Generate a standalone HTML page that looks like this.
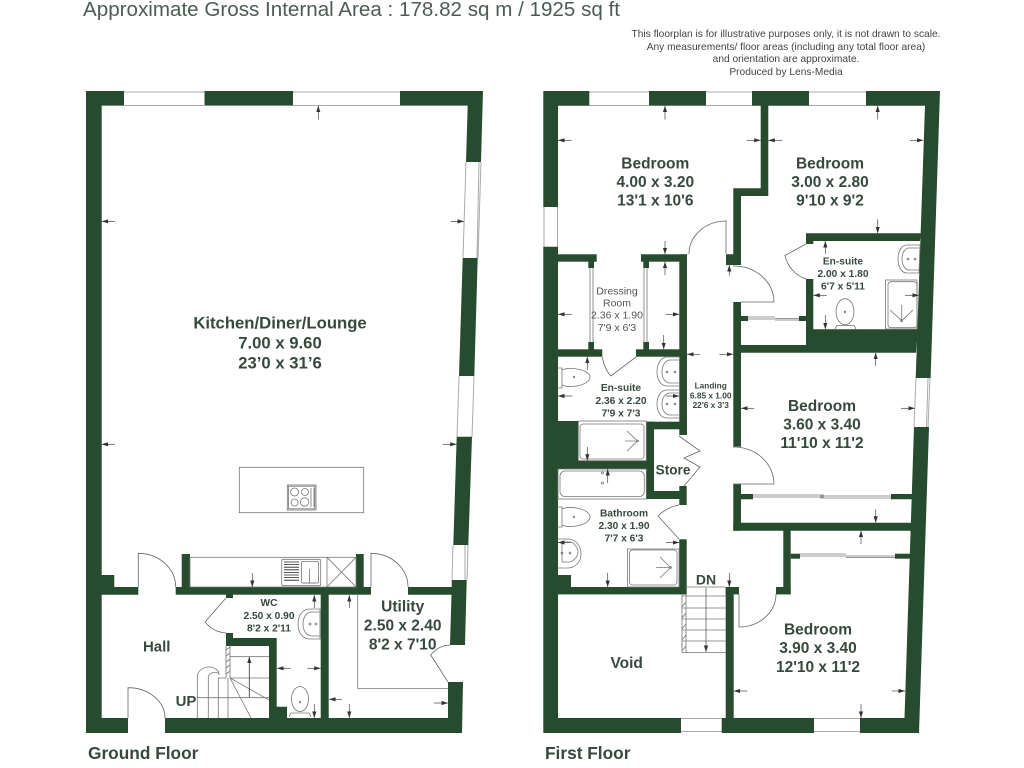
<!DOCTYPE html>
<html lang="en">
<head>
<meta charset="utf-8">
<title>Floorplan</title>
<style>
html,body{margin:0;padding:0;background:#fff;width:1024px;height:768px;overflow:hidden}
svg{display:block}
text{font-family:"Liberation Sans",sans-serif}
.t{font-weight:bold;fill:#37493c;text-anchor:middle}
.l{font-size:15.5px}.m{font-size:10.2px}
.w{fill:#264b2e;stroke:none}
.f{fill:none;stroke:#777;stroke-width:.8}
.d{fill:none;stroke:#666;stroke-width:.8}
.g{fill:none;stroke:#aaa;stroke-width:1}
.a{fill:none;stroke:#444;stroke-width:.7;marker-end:url(#ah)}
</style>
</head>
<body>
<svg width="1024" height="768" viewBox="0 0 1024 768" xmlns="http://www.w3.org/2000/svg">
<defs>
<marker id="ah" markerUnits="userSpaceOnUse" markerWidth="7" markerHeight="6" refX="6.5" refY="2.5" orient="auto">
<path d="M0 0.4L6.5 2.5L0 4.6Z" fill="#333"/>
</marker>
</defs>
<rect width="1024" height="768" fill="#fff"/>

<text x="83" y="16" font-size="20" fill="#4d5c52" textLength="537" lengthAdjust="spacingAndGlyphs">Approximate Gross Internal Area : 178.82 sq m / 1925 sq ft</text>
<g font-size="10.2" fill="#444" text-anchor="middle">
<text x="786" y="37">This floorplan is for illustrative purposes only, it is not drawn to scale.</text>
<text x="786" y="50">Any measurements/ floor areas (including any total floor area)</text>
<text x="786" y="62">and orientation are approximate.</text>
<text x="786" y="75">Produced by Lens-Media</text>
</g>

<!-- GROUND FLOOR WINDOW LINES -->
<g class="g">
<path d="M124 92H204M124 105.5H204M293 92H400M293 105.5H400"/>
<path d="M466 162L463 258M481 162L478 258M479 162L477 258"/>
<path d="M459 376L457 437M474 376L472 437"/>
<path d="M453 545L452 580M468 545L467 580M465 545L465 580"/>
</g>

<!-- GROUND FLOOR WALLS -->
<g class="w">
<polygon points="86,91 124,91 124,105.6 101.7,105.6 101.7,575 114.3,575 114.3,587 138.3,587 138.3,594.7 101.7,594.7 101.7,718 128,718 128,733 86,733"/>
<rect x="204.5" y="91" width="88.5" height="14.6"/>
<polygon points="400,91 483,91 481,162 466,162 467.7,105.6 400,105.6"/>
<polygon points="477.7,258 474.3,376 459,376 462.7,258"/>
<polygon points="472,436.7 468.3,545 453.3,545 456.7,436.7"/>
<polygon points="466.7,580 465,645 450,645 451.5,594.7 408,594.7 408,587 451.7,587 451.7,580"/>
<polygon points="448,682 463,682 462,733 165,733 165,718 448,718"/>
<rect x="175.7" y="587" width="195.3" height="7.7"/>
<rect x="181.7" y="554" width="8.3" height="33"/>
<rect x="356" y="554" width="7.7" height="33"/>
<rect x="320.7" y="594" width="8" height="125"/>
<rect x="226" y="594" width="7" height="4"/>
<polygon points="226,633 233,633 233,638 276.7,638 276.7,706.7 287,706.7 287,718 269,718 269,646 226,646"/>
</g>

<!-- GROUND FLOOR FIXTURES -->
<g class="f">
<rect x="190" y="557.3" width="166" height="29.7"/>
<rect x="281.7" y="559.3" width="39" height="26.4" rx="1.5"/>
<rect x="301.5" y="561.5" width="17" height="21.5" rx="1"/>
<path d="M327 557.3L356 587M356 557.3L327 587M327 557.3V587"/>
<path style="stroke:#222" d="M284 562H299M284 564.6H299M284 567.2H299M284 569.8H299M284 572.4H299M284 575H299M284 577.6H299M284 580.2H299"/>
<path d="M309.5 569V583M303 583H316"/>
<rect x="239.3" y="467.3" width="124.4" height="45.4"/>
<rect x="287.3" y="485" width="28.7" height="25"/>
<rect x="288.5" y="486.2" width="26.3" height="22.6"/>
<circle cx="294.6" cy="492" r="4"/><circle cx="305" cy="492" r="3.5"/>
<circle cx="294.6" cy="502.5" r="3.5"/><circle cx="304.6" cy="502" r="4.2"/>
<path d="M311 488V507M314 488V507"/>
<!-- WC basin and toilet -->
<path d="M320 609H310C302 609 298 616 298 624C298 632 302 639 310 639H320Z"/>
<path d="M320 612H312C306 612 303 618 303 624C303 630 306 636 312 636H320"/>
<circle cx="310" cy="624" r="1"/><circle cx="316" cy="624" r="1"/>
<ellipse cx="300" cy="699" rx="8.5" ry="12.5"/>
<circle cx="300" cy="702" r=".7"/>
<path d="M289 717L291 713H309L311 717"/>
<!-- Utility cupboard -->
<path d="M357.7 595V688.5H448"/>
<!-- Stairs -->
<path d="M197.3 718V676.7M208.3 718V676.7M218.3 718V678M228 718V678M197.3 697.7H269"/>
<path d="M230 656.7H269M230 678H269M249.3 697.7V656.7M226 646V678H218M230 646V678"/>
<path d="M230 678L269 700M230 678L251 718"/>
<path d="M197.3 677C197.3 671 203 667 209 667C215 667 219 671 219 674C216 671 210 672 208.3 677"/>
<path d="M226 650L230 647M226 656L230 653M226 662L230 659M226 668L230 665M226 674L230 671"/>
</g>

<!-- GROUND FLOOR DOORS -->
<g class="d">
<path d="M138.3 587V553.3A37.4 33.7 0 0 1 175.7 587"/>
<path d="M128 718V687.7A37 30.3 0 0 1 165 718"/>
<path d="M371 587V553.3A37 33.7 0 0 1 408 587"/>
<path d="M226 598L205 622A30 30 0 0 0 226 633"/>
<path d="M448 682L430.7 655A26 26 0 0 1 450 645"/>
</g>

<!-- GROUND FLOOR ARROWS -->
<g>
<line class="a" x1="318.3" y1="119.5" x2="318.3" y2="105.7"/>
<line class="a" x1="115" y1="221.4" x2="101.7" y2="221.4"/>
<line class="a" x1="450.7" y1="221.4" x2="464" y2="221.4"/>
<line class="a" x1="115" y1="444.3" x2="101.7" y2="444.3"/>
<line class="a" x1="442.7" y1="444.3" x2="456.7" y2="444.3"/>
<line class="a" x1="252.3" y1="573" x2="252.3" y2="587"/>
<line class="a" x1="314.3" y1="608" x2="314.3" y2="595"/>
<line class="a" x1="349.3" y1="608" x2="349.3" y2="595"/>
<line class="a" x1="290.7" y1="668.3" x2="277" y2="668.3"/>
<line class="a" x1="307.3" y1="668.3" x2="320.7" y2="668.3"/>
<line class="a" x1="314.3" y1="704" x2="314.3" y2="718"/>
<line class="a" x1="342" y1="699.3" x2="329" y2="699.3"/>
<line class="a" x1="349.3" y1="704" x2="349.3" y2="718"/>
<line class="a" x1="434" y1="703" x2="448" y2="703"/>
<line class="a" x1="249.3" y1="697" x2="249.3" y2="656.7"/>
</g>

<!-- FIRST FLOOR WINDOW LINES -->
<g class="g">
<path d="M589 92H649M589 105.5H649M706 92H752M706 105.5H752M809 92H866M809 105.5H866"/>
<path d="M544 207V247M557.5 207V247"/>
<path d="M916 378L914 427M930 378L928 427M928 378L926.5 427"/>
<path d="M681 718.5H722M681 731.5H722M814 718.5H860M814 731.5H860"/>
</g>

<!-- FIRST FLOOR WALLS -->
<g class="w">
<polygon points="543.3,91 589.3,91 589.3,105.7 558,105.7 558,207 543.3,207"/>
<rect x="649" y="91" width="57" height="14.7"/>
<polygon points="752,91 809,91 809,105.7 768.3,105.7 768.3,196 741,196 741,265 726,265 726,254.3 733.3,254.3 733.3,188.3 760.7,188.3 760.7,105.7 752,105.7"/>
<polygon points="866,91 940,91 930.6,378 915.7,378 925,105.7 866,105.7"/>
<polygon points="929,427 919,733 904,733 914,427"/>
<polygon points="543.3,246.7 558,246.7 558,718 681,718 681,733 543.3,733"/>
<rect x="721.7" y="718" width="92.3" height="15"/>
<rect x="860" y="718" width="50" height="15"/>
<!-- bedroom1/dressing wall -->
<rect x="558" y="254.3" width="38.7" height="7.4"/>
<rect x="641" y="254.3" width="46" height="7.4"/>
<rect x="679.3" y="254.3" width="7.7" height="180.7"/>
<rect x="588.3" y="261" width="5.7" height="7"/>
<rect x="643.3" y="261" width="5.7" height="7"/>
<rect x="588.3" y="342" width="5.7" height="8"/>
<rect x="643.3" y="342" width="5.7" height="8"/>
<rect x="558" y="349.3" width="44.3" height="7.4"/>
<rect x="636" y="349.3" width="51" height="7.4"/>
<!-- ensuite / bath block -->
<rect x="558" y="421" width="20.3" height="48"/>
<rect x="558" y="460.7" width="96" height="8.3"/>
<rect x="646.3" y="421.7" width="7.7" height="77.3"/>
<rect x="646.3" y="421.7" width="40" height="7.6"/>
<rect x="646.3" y="491" width="40" height="8"/>
<rect x="679.3" y="486" width="7.4" height="19"/>
<rect x="679.3" y="539.3" width="7.4" height="55"/>
<rect x="558" y="587" width="128" height="7.4"/>
<rect x="558" y="575" width="13" height="13"/>
<!-- en-suite 2 -->
<polygon points="806,233.3 921,233.3 920,241 813.3,241 813.3,244 806,244"/>
<rect x="806" y="279" width="7.3" height="51"/>
<polygon points="806,329.3 918,329.3 916,352.7 733.3,352.7 733.3,302 741,302 741,316 748,316 748,321 741,321 741,345 806,345"/>
<rect x="799" y="316" width="7" height="5"/>
<!-- bedroom 3 -->
<rect x="733.3" y="352" width="7.7" height="94.7"/>
<rect x="733.3" y="484" width="7.7" height="46.7"/>
<rect x="741" y="494" width="12" height="5.3"/>
<polygon points="891,494 913,494 913,499.3 891,499.3"/>
<polygon points="733.3,522.7 912,522.7 911.5,530.7 733.3,530.7"/>
<!-- bedroom 4 -->
<rect x="783.3" y="530" width="7.4" height="64.3"/>
<rect x="776" y="587" width="14.7" height="7.4"/>
<rect x="790.7" y="553.7" width="9.3" height="5"/>
<rect x="895" y="553.7" width="15" height="5"/>
<rect x="725.7" y="587" width="13.3" height="7.4"/>
<rect x="725.7" y="587" width="8" height="131.5"/>
</g>

<!-- FIRST FLOOR FIXTURES -->
<g class="f">
<!-- dressing slides -->
<path d="M590 268V342M593 268V342M644 268V342M647 268V342"/>
<!-- wardrobe sliders -->
<path d="M748 317H775M775 320H799M748 319H775M775 318.5H799"/>
<path d="M753 495H824M820 498H891M753 497H824M820 496H891"/>
<path d="M800 554H846M846 557.5H895M800 556H846M846 556H895"/>
<!-- en-suite basin, shower, toilet (top) -->
<path d="M920 245H907C901 245 898 252 898 259C898 266 901 273 907 273H919Z"/>
<path d="M919 248H909C905 248 902 253 902 259C902 265 905 270 909 270H919"/>
<circle cx="908" cy="259" r=".9"/><circle cx="915" cy="259" r=".9"/>
<rect x="885.5" y="280" width="31.5" height="49"/>
<rect x="888" y="281.7" width="29" height="46" rx="3"/>
<path d="M901.7 320.7L890 310M901.7 320.7V305M901.7 320.7L913 310"/>
<circle cx="901.7" cy="320.7" r="1"/>
<ellipse cx="845" cy="311.7" rx="9" ry="13"/>
<circle cx="845" cy="312" r=".8"/>
<path d="M835 329L837 325.5H854L856 329"/>
<!-- en-suite 2 -->
<path d="M558 368H562V388H558M562 370C570 366 590 370 590 377C590 385 570 389 562 385"/>
<circle cx="574" cy="377" r=".8"/>
<path d="M679 357H667C661 357 657 364 657 372C657 380 661 386 667 386H679"/>
<path d="M679 360H670C665 360 662 366 662 372C662 378 665 383 670 383H679"/>
<circle cx="667" cy="372" r=".9"/><circle cx="675" cy="372" r=".9"/>
<path d="M679 390H667C661 390 657 396 657 404C657 412 661 418 667 418H679"/>
<path d="M679 393H670C665 393 662 398 662 404C662 410 665 415 670 415H679"/>
<circle cx="667" cy="404" r=".9"/><circle cx="675" cy="404" r=".9"/>
<!-- shower -->
<rect x="578.3" y="421" width="68" height="39.7"/>
<rect x="580" y="424" width="64" height="35" rx="3"/>
<path d="M637.5 441L627 431M637.5 441H625M637.5 441L627 451"/>
<circle cx="637.5" cy="441" r="1"/>
<!-- bath -->
<rect x="558" y="469" width="88.3" height="30"/>
<rect x="560" y="471" width="84.3" height="25.5" rx="5"/>
<circle cx="602.5" cy="473" r="1"/><circle cx="602.5" cy="483" r="1"/>
<!-- bathroom -->
<path d="M558 507H562V527H558M562 509C570 505 590 509 590 517C590 525 570 529 562 525"/>
<circle cx="574" cy="517" r=".8"/>
<path d="M558 539H568C575 539 581 545 581 554C581 562 575 568 568 568H558"/>
<path d="M562 542V562H570C575 560 578 556 578 552C578 547 573 542 570 542Z"/>
<circle cx="562" cy="553" r=".9"/><circle cx="570" cy="553" r=".9"/>
<rect x="627.5" y="549" width="51.5" height="38"/>
<rect x="629.5" y="550" width="47.5" height="35" rx="3"/>
<path d="M670.5 567.5L660 557M670.5 567.5H656M670.5 567.5L660 578"/>
<circle cx="670.5" cy="567.5" r="1"/>
<!-- stairs -->
<path d="M686 587H725.7M682 596H725.7M682 608H725.7M682 619H725.7M682 630H725.7M682 641H725.7M682 652.5H725.7M682 594V652.5M686 594V652.5"/>
<path d="M682 607L686 602M682 618L686 613M682 629L686 624M682 640L686 635M682 651L686 646"/>
</g>

<!-- FIRST FLOOR DOORS -->
<g class="d">
<path d="M726 254V221A37 33 0 0 0 689 254"/>
<path d="M733 266A40 36 0 0 1 774 302H741"/>
<path d="M806 244L785 255.5A32 32 0 0 0 806 279" />
<path d="M602.3 357C604 366 607 372 611 376L636 357"/>
<path d="M733 447A40 37 0 0 1 774 484H733"/>
<path d="M679 436L700 451L684 458L700 467L684 486"/>
<path d="M679 505C668 507 662 512 658 516L679 539"/>
<path d="M739 594V627A37 33 0 0 0 776 594"/>
</g>

<!-- FIRST FLOOR ARROWS -->
<g>
<line class="a" x1="665" y1="119.5" x2="665" y2="105.7"/>
<line class="a" x1="571.7" y1="140.3" x2="558" y2="140.3"/>
<line class="a" x1="746.7" y1="140.3" x2="760.7" y2="140.3"/>
<line class="a" x1="782.3" y1="140.3" x2="768.3" y2="140.3"/>
<line class="a" x1="910" y1="140.3" x2="923.3" y2="140.3"/>
<line class="a" x1="877.7" y1="119.5" x2="877.7" y2="105.7"/>
<line class="a" x1="877.7" y1="219.3" x2="877.7" y2="233.3"/>
<line class="a" x1="665" y1="241" x2="665" y2="254.3"/>
<line class="a" x1="665" y1="275" x2="665" y2="261.7"/>
<line class="a" x1="729.3" y1="275.7" x2="729.3" y2="265"/>
<line class="a" x1="825.3" y1="254" x2="825.3" y2="241"/>
<line class="a" x1="826.7" y1="295.3" x2="813.3" y2="295.3"/>
<line class="a" x1="905" y1="295.3" x2="919" y2="295.3"/>
<line class="a" x1="825.3" y1="315" x2="825.3" y2="329.3"/>
<line class="a" x1="571.7" y1="314.3" x2="558" y2="314.3"/>
<line class="a" x1="665.7" y1="314.3" x2="679.3" y2="314.3"/>
<line class="a" x1="663.7" y1="335" x2="663.7" y2="349.3"/>
<line class="a" x1="587.3" y1="370" x2="587.3" y2="356.7"/>
<line class="a" x1="572.3" y1="396" x2="558" y2="396"/>
<line class="a" x1="666" y1="396" x2="679.3" y2="396"/>
<line class="a" x1="587.3" y1="447" x2="587.3" y2="460.7"/>
<line class="a" x1="607.7" y1="483" x2="607.7" y2="469"/>
<line class="a" x1="700" y1="354.3" x2="687" y2="354.3"/>
<line class="a" x1="719.3" y1="354.3" x2="733.3" y2="354.3"/>
<line class="a" x1="875.7" y1="366" x2="875.7" y2="352.7"/>
<line class="a" x1="754.3" y1="408.3" x2="741" y2="408.3"/>
<line class="a" x1="901" y1="408.3" x2="915" y2="408.3"/>
<line class="a" x1="875.7" y1="509.3" x2="875.7" y2="522.7"/>
<line class="a" x1="861" y1="544" x2="861" y2="530.7"/>
<line class="a" x1="665.7" y1="542.5" x2="679.3" y2="542.5"/>
<line class="a" x1="571" y1="542.5" x2="558" y2="542.5"/>
<line class="a" x1="607.7" y1="573" x2="607.7" y2="587"/>
<line class="a" x1="729.3" y1="573" x2="729.3" y2="587"/>
<line class="a" x1="706" y1="588" x2="706" y2="652"/>
<line class="a" x1="747.3" y1="691" x2="733.7" y2="691"/>
<line class="a" x1="891.7" y1="691" x2="905" y2="691"/>
<line class="a" x1="861" y1="704" x2="861" y2="718"/>
</g>

<!-- LABELS GROUND -->
<g class="t" font-size="16.7">
<text x="280" y="328.5">Kitchen/Diner/Lounge</text>
<text x="280" y="348.5">7.00 x 9.60</text>
<text x="280" y="368.5">23’0 x 31’6</text>
</g>
<g class="t l">
<text x="402.7" y="611.5">Utility</text>
<text x="402.7" y="630.5">2.50 x 2.40</text>
<text x="402.7" y="649.5">8'2 x 7'10</text>
</g>
<g class="t m">
<text x="269" y="606">WC</text>
<text x="269" y="619">2.50 x 0.90</text>
<text x="269" y="631.5">8'2 x 2'11</text>
</g>
<text class="t" x="156.7" y="651.5" font-size="15">Hall</text>
<text class="t" x="186" y="706" font-size="15">UP</text>
<text class="t" x="88" y="759" font-size="17.3" style="text-anchor:start">Ground Floor</text>

<!-- LABELS FIRST -->
<g class="t l">
<text x="655.3" y="168.5">Bedroom</text><text x="655.3" y="187">4.00 x 3.20</text><text x="655.3" y="205.5">13'1 x 10'6</text>
<text x="830" y="168.5">Bedroom</text><text x="830" y="187">3.00 x 2.80</text><text x="830" y="205.5">9'10 x 9'2</text>
<text x="822" y="411">Bedroom</text><text x="822" y="429.5">3.60 x 3.40</text><text x="822" y="448">11'10 x 11'2</text>
<text x="818" y="634.5">Bedroom</text><text x="818" y="653">3.90 x 3.40</text><text x="818" y="672">12'10 x 11'2</text>
</g>
<g class="t m">
<text x="843" y="264.5">En-suite</text><text x="843" y="277">2.00 x 1.80</text><text x="843" y="289.5">6'7 x 5'11</text>
<text x="621" y="391">En-suite</text><text x="621" y="404">2.36 x 2.20</text><text x="621" y="416.5">7'9 x 7'3</text>
<text x="624" y="516.5">Bathroom</text><text x="624" y="529">2.30 x 1.90</text><text x="624" y="541.5">7'7 x 6'3</text>
</g>
<g font-size="10.5" fill="#555" text-anchor="middle">
<text x="617" y="294.5">Dressing</text><text x="617" y="306.5">Room</text><text x="617" y="318.5">2.36 x 1.90</text><text x="617" y="331">7'9 x 6'3</text>
</g>
<g class="t" font-size="8.3">
<text x="710.7" y="388.5">Landing</text><text x="710.7" y="398.3">6.85 x 1.00</text><text x="710.7" y="408">22'6 x 3'3</text>
</g>
<text class="t" x="673" y="474.5" font-size="13.6">Store</text>
<text class="t" x="706" y="584.5" font-size="14">DN</text>
<text class="t" x="626.7" y="668" font-size="15.5">Void</text>
<text class="t" x="545" y="759" font-size="17.3" style="text-anchor:start">First Floor</text>
</svg>
</body>
</html>
